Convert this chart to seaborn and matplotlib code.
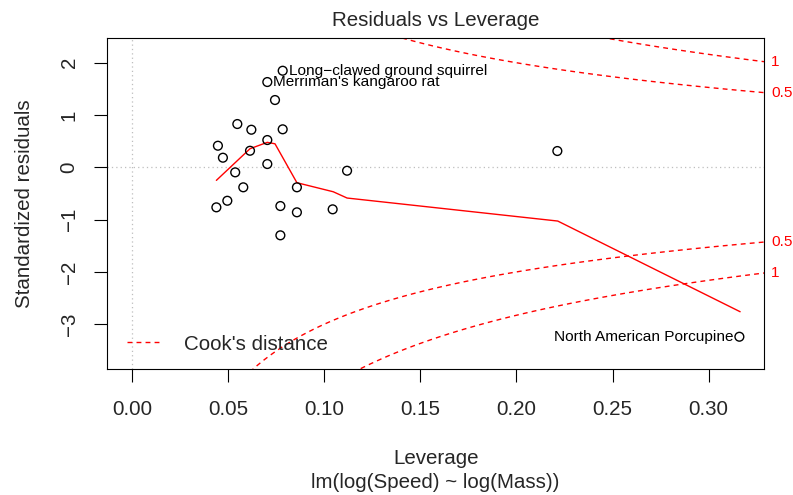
import numpy as np
import pandas as pd
import matplotlib
matplotlib.use("Agg")
import matplotlib.pyplot as plt
from matplotlib import transforms
import seaborn as sns

# Leverage and standardized residuals of lm(log(Speed) ~ log(Mass))
leverage = [0.0784, 0.0704, 0.0744, 0.0548, 0.0621, 0.0784, 0.0447, 0.0704,
            0.0473, 0.0614, 0.0704, 0.0537, 0.1119, 0.2213, 0.0579, 0.0858,
            0.0496, 0.0439, 0.0772, 0.0858, 0.1044, 0.0772, 0.3160]
std_resid = [1.847, 1.631, 1.287, 0.828, 0.719, 0.727, 0.413, 0.522,
             0.184, 0.317, 0.063, -0.096, -0.065, 0.312, -0.382, -0.382,
             -0.639, -0.765, -0.740, -0.860, -0.803, -1.300, -3.239]
point_names = ["Long−clawed ground squirrel", "Merriman's kangaroo rat"] + [""] * 20 + \
              ["North American Porcupine"]

# Smoother through the residuals
smooth_lev = [0.0439, 0.0614, 0.0704, 0.0744, 0.0858, 0.1047, 0.1119, 0.2215, 0.3164]
smooth_resid = [-0.249, 0.356, 0.478, 0.450, -0.294, -0.467, -0.587, -1.027, -2.761]

# Cook's distance contour levels, number of model coefficients
cook_levels = [0.5, 1.0]
n_coef = 2

x_ticks = [0.00, 0.05, 0.10, 0.15, 0.20, 0.25, 0.30]
y_ticks = [-3, -2, -1, 0, 1, 2]
x_range = (-0.01285, 0.3288)
y_range = (-3.862, 2.482)

df = pd.DataFrame({"leverage": leverage, "std_resid": std_resid, "name": point_names})
smooth_df = pd.DataFrame({"leverage": smooth_lev, "std_resid": smooth_resid})

sns.set_style("ticks")
plt.rcParams["font.family"] = ["Liberation Sans", "DejaVu Sans"]
plt.rcParams["axes.unicode_minus"] = True
fs = 14.8
id_fs = 11.1
red = "#FF0000"

fig = plt.figure(figsize=(7.93, 4.95), dpi=100)
ax = fig.add_axes([0.1353, 0.2539, 0.8281, 0.6703])
ax.set_xlim(*x_range)
ax.set_ylim(*y_range)

# dotted reference lines at zero
ax.axhline(0, color="#BEBEBE", ls=(0, (1, 2.5)), lw=0.9, zorder=1)
ax.axvline(0, color="#BEBEBE", ls=(0, (1, 2.5)), lw=0.9, zorder=1)

# points
sns.scatterplot(data=df, x="leverage", y="std_resid", ax=ax, marker="o", s=40,
                facecolor="none", edgecolor="black", linewidth=1.0, zorder=3,
                legend=False)

# smoother
sns.lineplot(data=smooth_df, x="leverage", y="std_resid", ax=ax, color=red,
             lw=1.0, sort=False, estimator=None, zorder=2)

# Cook's distance contours
dash = (0, (3.5, 3.0))
hh = np.linspace(min(min(leverage), max(leverage) / 100), x_range[1], 101)
for lvl in cook_levels:
    cl = np.sqrt(lvl * n_coef * (1 - hh) / hh)
    ax.plot(hh, cl, color=red, ls=dash, lw=1.0, zorder=2)
    ax.plot(hh, -cl, color=red, ls=dash, lw=1.0, zorder=2)

# contour level labels on the right margin
xmax = min(0.99, x_range[1])
trans = transforms.blended_transform_factory(ax.transAxes, ax.transData)
for lvl in cook_levels:
    aty = np.sqrt(lvl * n_coef * (1 - xmax) / xmax)
    for yy in (aty, -aty):
        ax.annotate(f"{lvl:g}", xy=(1.0, yy), xycoords=trans, xytext=(5, 0),
                    textcoords="offset points", ha="left", va="center",
                    color=red, fontsize=id_fs, annotation_clip=False)

# labels for the most extreme points
mid_x = np.mean(x_range)
for lv, rs, nm in zip(leverage, std_resid, point_names):
    if not nm:
        continue
    right = lv > mid_x
    ax.annotate(nm, xy=(lv, rs), xytext=(-4.3 if right else 4.3, 0),
                textcoords="offset points", ha="right" if right else "left",
                va="center", fontsize=id_fs, color="black")

# legend
ax.legend(handles=[plt.Line2D([], [], color=red, ls=dash, lw=1.0)],
          labels=["Cook's distance"], loc="center left",
          bbox_to_anchor=(0.0148, 0.0762), frameon=False, borderpad=0,
          handlelength=1.76, handletextpad=1.0, fontsize=fs)

# axes styling
ax.set_xticks(x_ticks)
ax.set_xticklabels([f"{t:.2f}" for t in x_ticks])
ax.set_yticks(y_ticks)
ax.set_yticklabels([f"{t:d}".replace("-", "−") for t in y_ticks])
ax.tick_params(axis="x", length=9.1, width=0.8, pad=13, labelsize=fs, color="black")
ax.tick_params(axis="y", length=9.1, width=0.8, pad=11.5, labelsize=fs, color="black",
               labelrotation=90)
for lab in ax.get_yticklabels():
    lab.set_va("center")
for sp in ax.spines.values():
    sp.set_visible(True)
    sp.set_color("black")
    sp.set_linewidth(0.8)

ax.set_xlabel("Leverage", fontsize=fs)
ax.xaxis.label.set_va("center")
ax.xaxis.set_label_coords(0.5, -0.2673)
ax.set_ylabel("Standardized residuals", fontsize=fs)
ax.yaxis.label.set_va("center")
ax.yaxis.set_label_coords(-0.1268, 0.5)
ax.set_title("Residuals vs Leverage", fontsize=fs, pad=8.5)

fig.text(0.5494, 1 - 483 / 495, "lm(log(Speed) ~ log(Mass))", ha="center",
         va="center", fontsize=fs)

fig.savefig("out.png", dpi=100)
